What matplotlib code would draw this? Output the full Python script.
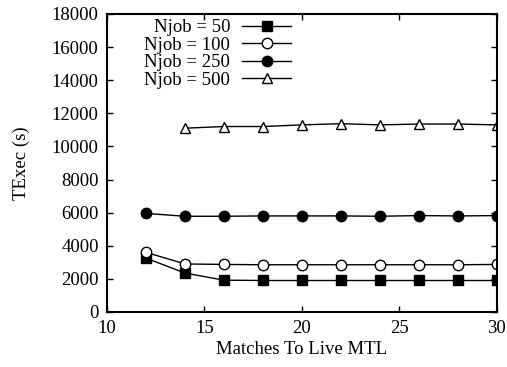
import matplotlib.pyplot as plt

plt.rcParams['font.family'] = ['Liberation Serif', 'DejaVu Serif']
plt.rcParams['font.size'] = 13.5

x_all = [12, 14, 16, 18, 20, 22, 24, 26, 28, 30]
x_500 = [14, 16, 18, 20, 22, 24, 26, 28, 30]

njob50 = [3250, 2350, 1920, 1900, 1900, 1900, 1900, 1900, 1900, 1900]
njob100 = [3600, 2900, 2870, 2850, 2850, 2850, 2850, 2850, 2850, 2870]
njob250 = [5950, 5780, 5780, 5800, 5800, 5800, 5780, 5820, 5800, 5820]
njob500 = [11100, 11200, 11200, 11300, 11370, 11300, 11350, 11350, 11300]

fig = plt.figure(figsize=(5.07, 3.67), dpi=100)
ax = fig.add_axes([0.211, 0.150, 0.769, 0.812])

ax.plot(x_all, njob50, c='black', lw=1, marker='s', ms=7.5, label='Njob = 50')
ax.plot(x_all, njob100, c='black', lw=1, marker='o', ms=7.5, mfc='white', label='Njob = 100')
ax.plot(x_all, njob250, c='black', lw=1, marker='o', ms=7.5, label='Njob = 250')
ax.plot(x_500, njob500, c='black', lw=1, marker='^', ms=7.5, mfc='white', label='Njob = 500')

ax.set_xlim(10, 30)
ax.set_ylim(0, 18000)
ax.set_xticks([10, 15, 20, 25, 30])
ax.set_yticks(range(0, 18001, 2000))
ax.tick_params(direction='in', top=True, right=True, length=4, width=1, pad=6)
for s in ax.spines.values():
    s.set_linewidth(1.5)

ax.set_xlabel('Matches To Live MTL', labelpad=3)
ax.set_ylabel('TExec (s)', labelpad=16)

ax.legend(loc='upper right', bbox_to_anchor=(0.472, 0.982), markerfirst=False, frameon=False,
          handlelength=2.6, labelspacing=0.02, handletextpad=0.65, borderaxespad=0, borderpad=0)

plt.savefig('out.png', dpi=100)
